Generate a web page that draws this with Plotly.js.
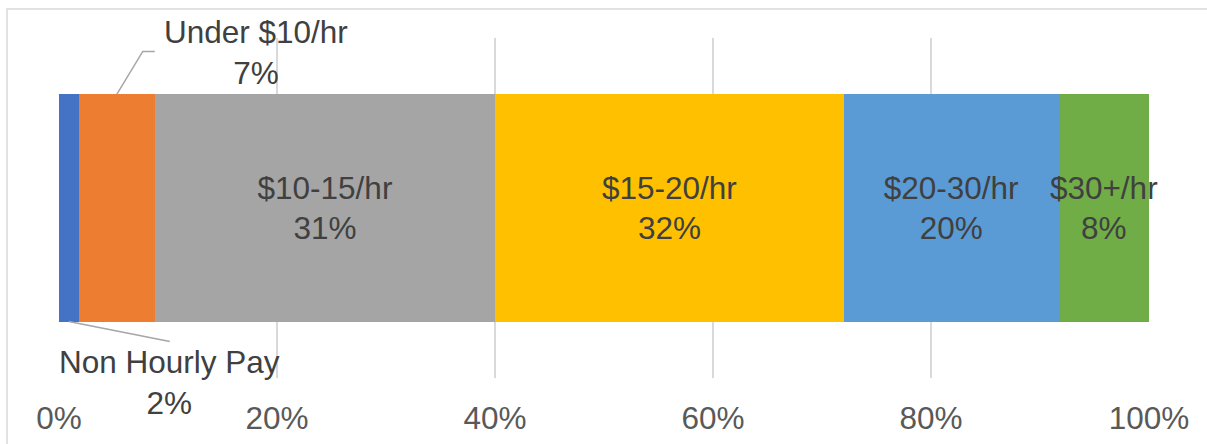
<!DOCTYPE html>
<html>
<head>
<meta charset="utf-8">
<script src="https://cdn.plot.ly/plotly-3.0.1.min.js"></script>
<style>html,body{margin:0;padding:0;background:#fff;}#chart{width:1207px;height:444px;}</style>
</head>
<body>
<div id="chart"></div>
<script>
// Data
const categories = ["Non Hourly Pay", "Under $10/hr", "$10-15/hr", "$15-20/hr", "$20-30/hr", "$30+/hr"];
const shares = [1.8, 7.0, 31.2, 32.0, 19.7, 8.3];
const colors = ["#4472C4", "#ED7D31", "#A5A5A5", "#FFC000", "#5B9BD5", "#70AD47"];
const tickValues = [0, 20, 40, 60, 80, 100];
const tickLabels = ["0%", "20%", "40%", "60%", "80%", "100%"];
const outsideLabelled = ["Non Hourly Pay", "Under $10/hr"];

const FONT = "Liberation Sans, Arial, sans-serif";
const FS = 31.5;
const bargap = 0.332;
const barHalf = (1 - bargap) / 2;

const traces = categories.map((c, i) => ({
  type: "bar",
  orientation: "h",
  name: c,
  y: ["All"],
  x: [shares[i]],
  marker: { color: colors[i], line: { width: 0 } },
  text: [outsideLabelled.includes(c) ? "" : c + "<br>" + Math.round(shares[i]) + "%"],
  textposition: "inside",
  insidetextanchor: "middle",
  textangle: 0,
  constraintext: "none",
  cliponaxis: false,
  textfont: { family: FONT, size: FS, color: "#404040" },
  hoverinfo: "none"
}));

// cumulative centres
const starts = [];
let acc = 0;
shares.forEach(v => { starts.push(acc); acc += v; });
const centre = i => starts[i] + shares[i] / 2;

const iNon = categories.indexOf("Non Hourly Pay");
const iUnder = categories.indexOf("Under $10/hr");

const annotations = [
  {
    x: centre(iUnder), y: barHalf, xref: "x", yref: "y",
    text: categories[iUnder] + "<br>" + Math.round(shares[iUnder]) + "%",
    showarrow: false, xanchor: "center", yanchor: "middle",
    xshift: 139, yshift: 42,
    font: { family: FONT, size: FS, color: "#404040" }
  },
  {
    x: centre(iNon), y: -barHalf, xref: "x", yref: "y",
    text: categories[iNon] + "<br>" + Math.round(shares[iNon]) + "%",
    showarrow: false, xanchor: "center", yanchor: "middle",
    xshift: 101, yshift: -61,
    font: { family: FONT, size: FS, color: "#404040" }
  }
];

const shapes = [
  {
    type: "path", xref: "x", yref: "y",
    xsizemode: "pixel", ysizemode: "pixel",
    xanchor: centre(iUnder), yanchor: barHalf,
    path: "M0,0 L26,43 L38,43",
    line: { color: "#A6A6A6", width: 1.5 }
  },
  {
    type: "path", xref: "x", yref: "y",
    xsizemode: "pixel", ysizemode: "pixel",
    xanchor: centre(iNon), yanchor: -barHalf,
    path: "M0,0 L101,-20",
    line: { color: "#A6A6A6", width: 1.5 }
  },
  {
    type: "rect", xref: "paper", yref: "paper",
    x0: -0.0477, x1: 1.2, y0: -0.3, y1: 1.085,
    line: { color: "#D9D9D9", width: 1.5 }, layer: "below"
  }
];

const layout = {
  width: 1207, height: 444,
  margin: { l: 59, r: 58, t: 38, b: 66, pad: 0 },
  paper_bgcolor: "#fff", plot_bgcolor: "#fff",
  barmode: "stack",
  bargap: bargap,
  showlegend: false,
  xaxis: {
    range: [0, 100], tickvals: tickValues, ticktext: tickLabels,
    showgrid: true, gridcolor: "#D9D9D9", gridwidth: 1.5,
    zeroline: false, showline: false, ticks: "",
    ticklabelstandoff: 18,
    tickfont: { family: FONT, size: FS, color: "#595959" },
    fixedrange: true
  },
  yaxis: {
    showticklabels: false, showgrid: false, zeroline: false, showline: false,
    range: [-0.5, 0.5], fixedrange: true
  },
  annotations: annotations,
  shapes: shapes
};

Plotly.newPlot("chart", traces, layout, { displayModeBar: false, staticPlot: true });
</script>
</body>
</html>
